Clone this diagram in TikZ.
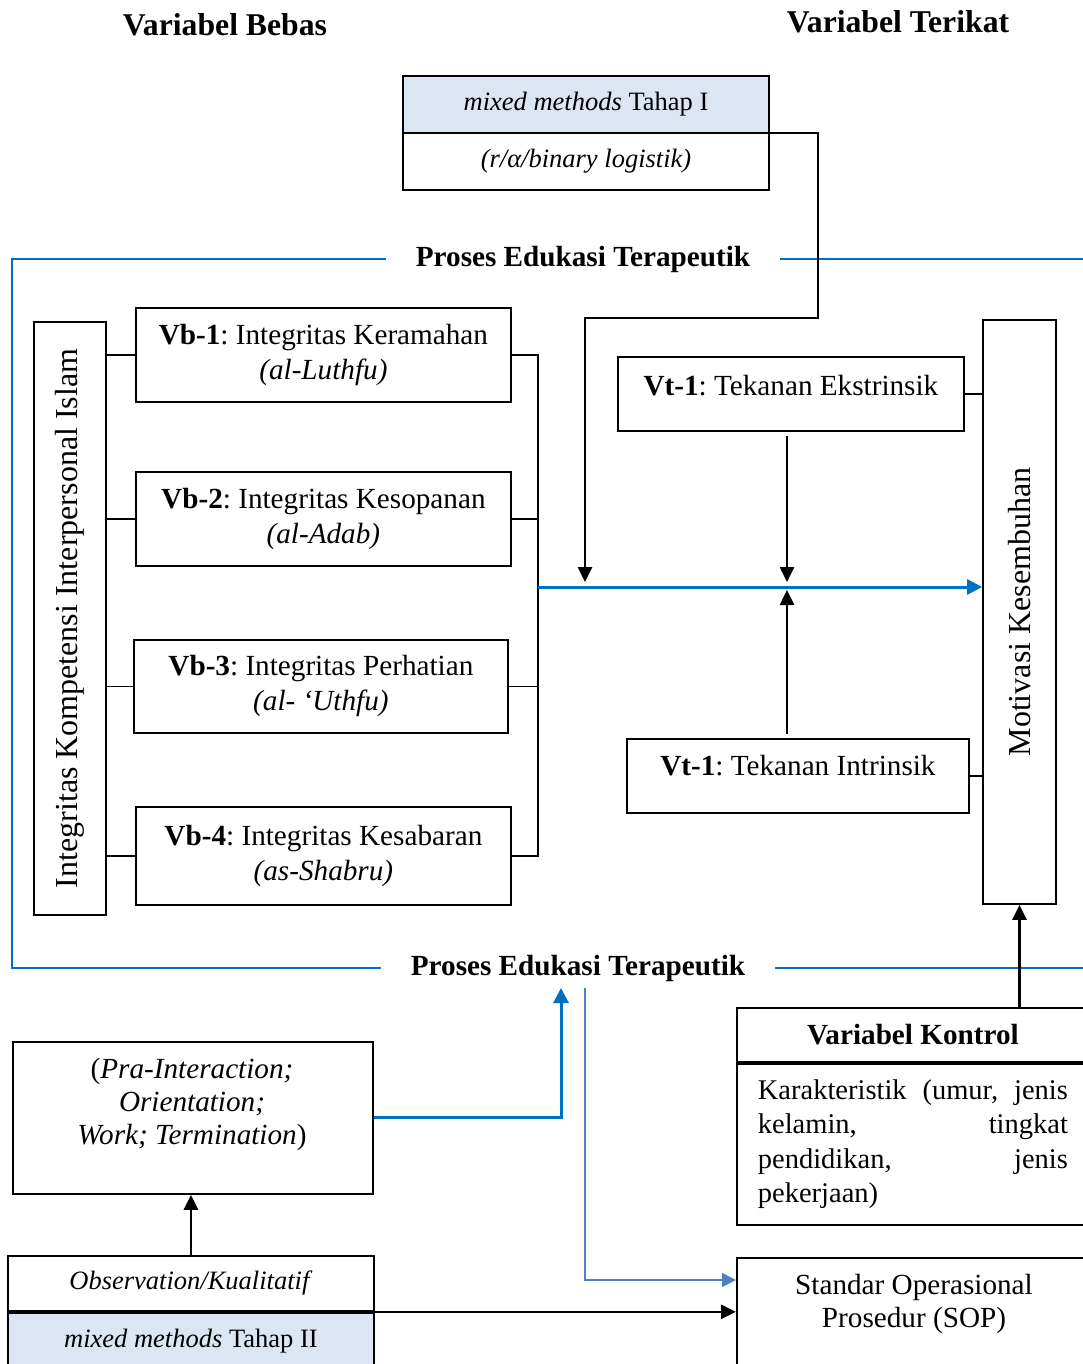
\documentclass[tikz,border=0pt]{standalone}
\usepackage{fontspec}
\setmainfont{Liberation Serif}
\usepackage{graphicx}
\usetikzlibrary{arrows.meta}
\frenchspacing

\definecolor{edublue}{RGB}{0,112,192}
\definecolor{sopblue}{RGB}{79,129,189}
\definecolor{headfill}{RGB}{220,230,242}

\begin{document}
\begin{tikzpicture}[x=1pt, y=-1pt, inner sep=0pt,
  font=\fontsize{29.2}{35}\selectfont,
  box/.style={draw, line width=1.8pt, align=center},
  conn/.style={line width=2.6pt, -{Triangle[length=15pt,width=14pt]}},
  bracket/.style={line width=1.4pt},
  eduframe/.style={draw=edublue, line width=2.4pt},
  flow/.style={edublue, line width=3pt, -{Triangle[length=15pt,width=15pt]}},
  sopflow/.style={sopblue, line width=1.6pt, -{Triangle[length=14pt,width=14pt]}},
  title/.style={font=\fontsize{31.7}{38}\selectfont\bfseries},
  proses/.style={font=\fontsize{29.2}{35}\selectfont\bfseries, inner xsep=30pt},
  smalltext/.style={font=\fontsize{26.5}{33}\selectfont},
  side/.style={font=\fontsize{32}{38}\selectfont}]
\useasboundingbox (0,0) rectangle (1083,1364);
\clip (0,0) rectangle (1083,1364);

% judul
\node[title] (bebas) at (225,25) {Variabel Bebas};
\node[title] (terikat) at (898,22) {Variabel Terikat};

% mixed methods tahap I
\node[box, smalltext, fill=headfill, outer sep=0pt, minimum width=366pt, minimum height=57pt, anchor=north west] (tahapI) at (403,76) {\textit{mixed methods} Tahap I};
\node[box, smalltext, outer sep=0pt, minimum width=366pt, minimum height=57pt, anchor=north] (logistik) at (tahapI.south) {\textit{(r/α/binary logistik)}};

% proses edukasi
\node[proses] (prosesAtas) at (583,259) {Proses Edukasi Terapeutik};
\node[proses] (prosesBawah) at (578,968) {Proses Edukasi Terapeutik};
\draw[eduframe] (prosesAtas.west) -| (12,968) -- (prosesBawah.west);
\draw[eduframe] (prosesAtas.east) -- (1090,259);
\draw[eduframe] (prosesBawah.east) -- (1090,968);

% variabel bebas
\node[box, side, minimum width=72pt, minimum height=593pt] (islam) at (70,618.5) {\rotatebox{90}{Integritas Kompetensi Interpersonal Islam}};
\node[box, minimum width=375pt, minimum height=94pt, anchor=north west] (vb1) at (135,307) {\textbf{Vb-1}: Integritas Keramahan\\\textit{(al-Luthfu)}};
\node[box, minimum width=375pt, minimum height=94pt, anchor=north west] (vb2) at (135,471) {\textbf{Vb-2}: Integritas Kesopanan\\\textit{(al-Adab)}};
\node[box, minimum width=374pt, minimum height=93pt, anchor=north west] (vb3) at (133,639) {\textbf{Vb-3}: Integritas Perhatian\\\textit{(al- ‘Uthfu)}};
\node[box, minimum width=375pt, minimum height=98pt, anchor=north west] (vb4) at (135,806) {\textbf{Vb-4}: Integritas Kesabaran\\\textit{(as-Shabru)}};

% variabel terikat
\node[box, minimum width=346pt, minimum height=74pt, text height=20pt, text depth=17pt, anchor=north west] (vtEks) at (617,356) {\textbf{Vt-1}: Tekanan Ekstrinsik};
\node[box, minimum width=342pt, minimum height=74pt, text height=20pt, text depth=20pt, anchor=north west] (vtInt) at (626,738) {\textbf{Vt-1}: Tekanan Intrinsik};
\node[box, side, minimum width=73pt, minimum height=584pt] (motivasi) at (1019.5,612) {\rotatebox{90}{Motivasi Kesembuhan}};

% variabel kontrol
\node[box, font=\fontsize{29.2}{35}\selectfont\bfseries, minimum width=352pt, minimum height=54pt, anchor=north west] (kontrol) at (736,1007) {Variabel Kontrol};
\node[box, minimum width=352pt, minimum height=161pt, anchor=north, text width=310pt, align=justify, font=\fontsize{28.5}{34.5}\selectfont] (karakteristik) at (kontrol.south) {\tolerance=9999 \hyphenpenalty=10000 Karakteristik (umur, jenis\linebreak kelamin, tingkat\linebreak pendidikan, jenis\linebreak pekerjaan)};

% tahap II
\node[box, minimum width=360pt, minimum height=152pt, anchor=north west] (tahapan) at (12,1041) {};
\node[anchor=north, align=center, font=\fontsize{29.2}{33}\selectfont] (tahapanTeks) at (192,1058) {(\textit{Pra-Interaction;}\\\textit{Orientation;}\\\textit{Work; Termination})};
\node[box, smalltext, minimum width=366pt, minimum height=55pt, anchor=north west] (observasi) at (7,1255) {\textit{Observation/Kualitatif}};
\node[box, smalltext, fill=headfill, minimum width=366pt, minimum height=56pt, anchor=north] (tahapII) at (observasi.south) {\textit{mixed methods} Tahap II};
\node[box, minimum width=352pt, minimum height=150pt, anchor=north west] (sop) at (736,1257) {};
\node[anchor=north, align=center, font=\fontsize{29.2}{33}\selectfont] (sopTeks) at (914,1274) {Standar Operasional\\Prosedur (SOP)};

\coordinate (brk) at (538,587);
\coordinate (turunA) at (585,587);
\coordinate (turunB) at (787,587);
\coordinate (naikPra) at (561,988);
\coordinate (turunSop) at (585,988);

% penghubung
\draw[bracket] (islam.east |- vb1.west) -- (vb1.west);
\draw[bracket] (islam.east |- vb2.west) -- (vb2.west);
\draw[bracket] (islam.east |- vb3.west) -- (vb3.west);
\draw[bracket] (islam.east |- vb4.west) -- (vb4.west);
\draw[bracket] (vb1.east) -- (vb1.east -| brk) -- (vb4.east -| brk) -- (vb4.east);
\draw[bracket] (vb2.east) -- (vb2.east -| brk);
\draw[bracket] (vb3.east) -- (vb3.east -| brk);
\draw[flow] (brk) -- (brk -| motivasi.west);

\draw[conn, shorten >=5pt] (tahapI.south east) -| (818,318) -| (turunA);
\draw[conn, shorten <=4pt, shorten >=5pt] (vtEks.south -| turunB) -- (turunB);
\draw[conn, shorten <=4pt, shorten >=3pt] (vtInt.north -| turunB) -- (turunB);
\draw[bracket] (vtEks.east) -- (vtEks.east -| motivasi.west);
\draw[bracket] (vtInt.east) -- (vtInt.east -| motivasi.west);
\draw[conn] (motivasi.south |- kontrol.north) -- (motivasi.south);

\draw[flow] (tahapan.east) -| (naikPra);
\draw[sopflow] (turunSop) |- ([yshift=-23pt]sop.north west);
\draw[conn] (observasi.north) -- (observasi.north |- tahapan.south);
\draw[conn] (observasi.south east) -- (observasi.south east -| sop.west);

\end{tikzpicture}
\end{document}
